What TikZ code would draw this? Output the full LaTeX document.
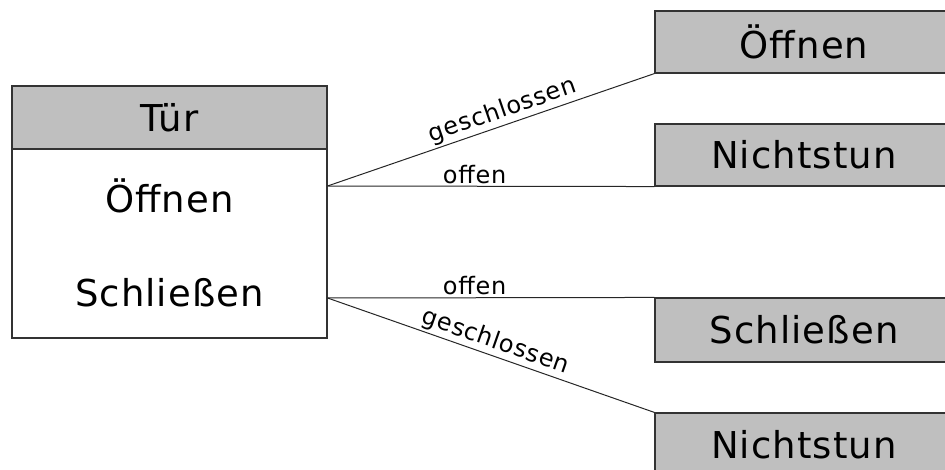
\documentclass[tikz,border=0pt]{standalone}
\usepackage{fontspec}
\setmainfont{DejaVu Sans}[LetterSpace=3]
\begin{document}
\begin{tikzpicture}[x=1pt,y=-1pt,
  frame/.style={draw=black!80, line width=1.1pt, inner sep=0pt},
  head/.style={frame, fill=black!25},
  big/.style={font=\fontsize{37}{40}\selectfont, inner sep=0pt},
  link/.style={draw=black!85, line width=1pt},
  lbl/.style={font=\fontsize{24}{27}\selectfont, inner sep=2pt}]
\useasboundingbox (0,0) rectangle (945,470);
\clip (0,0) rectangle (945,470);
% class box on the left
\node[head, minimum width=315pt, minimum height=63pt] (hdr) at (169.5,117.5) {};
\node[big] at (hdr.center) {Tür};
\node[frame, fill=white, minimum width=315pt, minimum height=189pt] (body) at (169.5,243.5) {};
\node[big] (mOpen) at (169.5,196) {Öffnen};
\node[big] (mClose) at (169.5,293) {Schließen};
\coordinate (pO) at ([yshift=57.5pt]body.east);
\coordinate (pS) at ([yshift=-54.5pt]body.east);
% action boxes on the right
\node[head, minimum width=298pt, minimum height=62pt, big] (r1) at (804,42) {Öffnen};
\node[head, minimum width=298pt, minimum height=62pt, big] (r2) at (804,155) {Nichtstun};
\node[head, minimum width=298pt, minimum height=64pt, big] (r3) at (804,330) {Schließen};
\node[head, minimum width=298pt, minimum height=64pt, big] (r4) at (804,445) {Nichtstun};
% transitions
\draw[link] (pO) -- node[lbl, pos=.55, sloped, above] {geschlossen} (r1.south west);
\draw[link] (pO) -- node[lbl, pos=.45, above] {offen} (r2.south west);
\draw[link] (pS) -- node[lbl, pos=.45, above] {offen} (r3.north west);
\draw[link] (pS) -- node[lbl, pos=.50, sloped, above] {geschlossen} (r4.north west);
\end{tikzpicture}
\end{document}
